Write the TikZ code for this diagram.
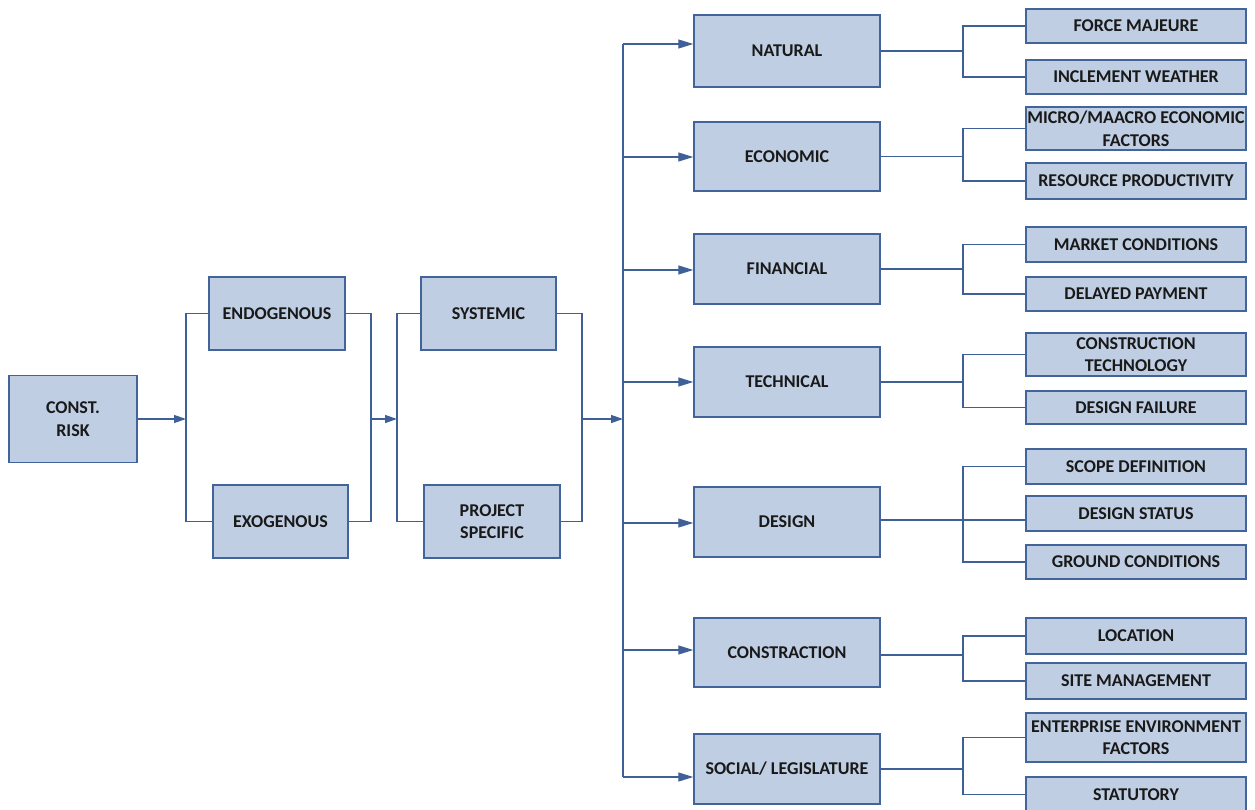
\documentclass[tikz,border=0pt]{standalone}
\usepackage{fontspec}
\setmainfont{Carlito}
\usetikzlibrary{arrows.meta}
\definecolor{boxfill}{RGB}{191,206,226}
\definecolor{boxline}{RGB}{66,100,154}
\definecolor{conn}{RGB}{62,96,150}
\tikzset{
  box/.style={draw=boxline, fill=boxfill, line width=1.5pt, rectangle, inner sep=1pt,
    align=center, font=\fontsize{18}{22.5}\selectfont\bfseries, text=black!90},
  conline/.style={draw=conn, line width=1.3pt},
  bigarr/.style={conline, -{Triangle[length=15pt,width=9pt]}},
  smallarr/.style={conline, -{Triangle[length=12pt,width=8pt]}},
}
\begin{document}
\begin{tikzpicture}[x=1pt,y=-1pt]
\useasboundingbox (0,0) rectangle (1255,810);
% left part
\node[box, minimum width=128, minimum height=87] (const) at (73,419) {CONST.\\RISK};
\node[box, minimum width=136, minimum height=73] (endo) at (277,313.5) {ENDOGENOUS};
\node[box, minimum width=135, minimum height=73] (exo) at (280.5,521.5) {EXOGENOUS};
\node[box, minimum width=135, minimum height=73] (sys) at (488.5,313.5) {SYSTEMIC};
\node[box, minimum width=136, minimum height=73] (proj) at (492,521.5) {PROJECT\\SPECIFIC};
\coordinate (j1) at (186,419);
\coordinate (j2) at (371,419);
\coordinate (j3) at (397,419);
\coordinate (j4) at (582,419);
\coordinate (j5) at (623,419);
\draw[smallarr] (const.east) -- (j1);
\draw[conline] (endo.west) -| (j1) |- (exo.west);
\draw[conline] (endo.east) -| (j2) |- (exo.east);
\draw[smallarr] (j2) -- (j3);
\draw[conline] (sys.west) -| (j3) |- (proj.west);
\draw[conline] (sys.east) -| (j4) |- (proj.east);
\draw[smallarr] (j4) -- (j5);
% middle boxes
\node[box, minimum width=186, minimum height=72] (nat) at (787,51) {NATURAL};
\node[box, minimum width=186, minimum height=69] (eco) at (787,156.5) {ECONOMIC};
\node[box, minimum width=186, minimum height=70] (fin) at (787,269) {FINANCIAL};
\node[box, minimum width=186, minimum height=70] (tec) at (787,382) {TECHNICAL};
\node[box, minimum width=186, minimum height=70] (des) at (787,522) {DESIGN};
\node[box, minimum width=186, minimum height=69] (con) at (787,652.5) {CONSTRACTION};
\node[box, minimum width=186, minimum height=70] (soc) at (787,769) {SOCIAL/ LEGISLATURE};
% trunk
\coordinate (t1) at (623,44);
\coordinate (t2) at (623,157);
\coordinate (t3) at (623,270);
\coordinate (t4) at (623,382);
\coordinate (t5) at (623,523);
\coordinate (t6) at (623,650);
\coordinate (t7) at (623,777);
\draw[conline] (t1) -- (t7);
\draw[bigarr] (t1) -- (t1 -| nat.west);
\draw[bigarr] (t2) -- (t2 -| eco.west);
\draw[bigarr] (t3) -- (t3 -| fin.west);
\draw[bigarr] (t4) -- (t4 -| tec.west);
\draw[bigarr] (t5) -- (t5 -| des.west);
\draw[bigarr] (t6) -- (t6 -| con.west);
\draw[bigarr] (t7) -- (t7 -| soc.west);
% right boxes
\node[box, minimum width=220, minimum height=34] (fm) at (1136,26) {FORCE MAJEURE};
\node[box, minimum width=220, minimum height=34] (iw) at (1136,77) {INCLEMENT WEATHER};
\node[box, minimum width=220, minimum height=43] (mm) at (1136,128.5) {MICRO/MAACRO ECONOMIC\\FACTORS};
\node[box, minimum width=220, minimum height=36] (rp) at (1136,181) {RESOURCE PRODUCTIVITY};
\node[box, minimum width=220, minimum height=35] (mc) at (1136,244.5) {MARKET CONDITIONS};
\node[box, minimum width=220, minimum height=34] (dp) at (1136,294) {DELAYED PAYMENT};
\node[box, minimum width=220, minimum height=43] (ct) at (1136,354.5) {CONSTRUCTION\\TECHNOLOGY};
\node[box, minimum width=220, minimum height=33] (df) at (1136,407.5) {DESIGN FAILURE};
\node[box, minimum width=220, minimum height=35] (sd) at (1136,466.5) {SCOPE DEFINITION};
\node[box, minimum width=220, minimum height=35] (ds) at (1136,513.5) {DESIGN STATUS};
\node[box, minimum width=220, minimum height=34] (gc) at (1136,562) {GROUND CONDITIONS};
\node[box, minimum width=220, minimum height=36] (loc) at (1136,636) {LOCATION};
\node[box, minimum width=220, minimum height=36] (sm) at (1136,681) {SITE MANAGEMENT};
\node[box, minimum width=220, minimum height=49] (eef) at (1136,737.5) {ENTERPRISE ENVIRONMENT\\FACTORS};
\node[box, minimum width=220, minimum height=35] (stat) at (1136,794.5) {STATUTORY};
% right connectors
\coordinate (k1) at (963,51);
\coordinate (k2) at (963,156.5);
\coordinate (k3) at (963,269);
\coordinate (k4) at (963,382);
\coordinate (k5) at (963,520);
\coordinate (k6) at (963,655);
\coordinate (k7) at (963,769);
\draw[conline] (nat.east) -- (k1);
\draw[conline] (fm.west) -| (k1) |- (iw.west);
\draw[conline] (eco.east) -- (k2);
\draw[conline] (mm.west) -| (k2) |- (rp.west);
\draw[conline] (fin.east) -- (k3);
\draw[conline] (mc.west) -| (k3) |- (dp.west);
\draw[conline] (tec.east) -- (k4);
\draw[conline] (ct.west) -| (k4) |- (df.west);
\draw[conline] (des.east |- k5) -- (k5) -- (k5 -| ds.west);
\draw[conline] (sd.west) -| (k5) |- (gc.west);
\draw[conline] (con.east |- k6) -- (k6);
\draw[conline] (loc.west) -| (k6) |- (sm.west);
\draw[conline] (soc.east) -- (k7);
\draw[conline] (eef.west) -| (k7) |- (stat.west);
\end{tikzpicture}
\end{document}
